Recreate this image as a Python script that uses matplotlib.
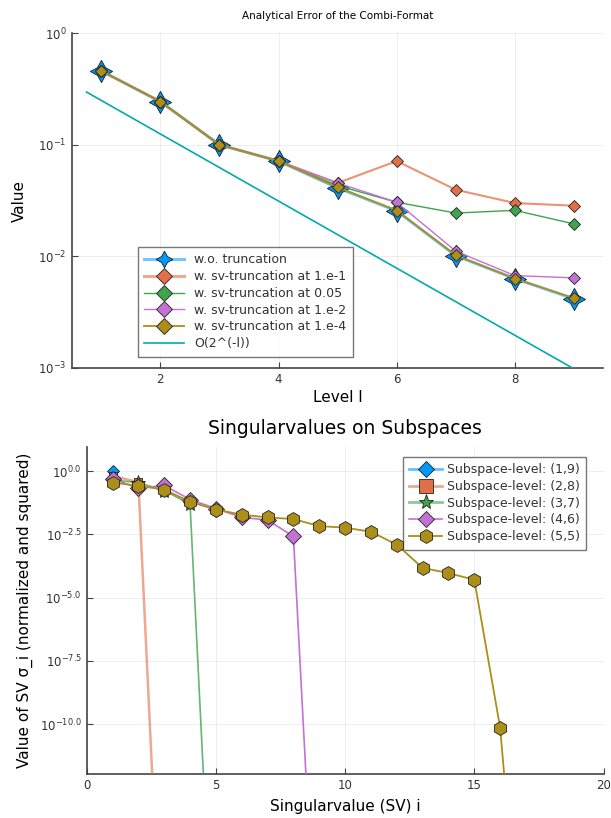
import numpy as np
import matplotlib
matplotlib.use("Agg")
import matplotlib.pyplot as plt
from matplotlib.ticker import FixedLocator, FixedFormatter, NullLocator
from matplotlib.colors import to_rgba
from matplotlib.lines import Line2D

plt.rcParams['font.family'] = ['DejaVu Sans']

# ---------------- data: top panel ----------------
levels = [1, 2, 3, 4, 5, 6, 7, 8, 9]
err_none = [0.46, 0.244, 0.100, 0.0714, 0.041, 0.0255, 0.0101, 0.0063, 0.00415]
err_1e1 = [0.46, 0.244, 0.100, 0.0714, 0.0454, 0.0714, 0.0395, 0.030, 0.0284]
err_005 = [0.46, 0.244, 0.100, 0.0714, 0.043, 0.0305, 0.0244, 0.0258, 0.0195]
err_1e2 = [0.46, 0.244, 0.100, 0.0714, 0.0454, 0.0305, 0.0111, 0.0067, 0.0064]
err_1e4 = [0.46, 0.244, 0.100, 0.0714, 0.0415, 0.0257, 0.0102, 0.0063, 0.0042]
ref_x = [0.75, 9.25]
ref_const = 0.5

top_labels = ["w.o. truncation", "w. sv-truncation at 1.e-1", "w. sv-truncation at 0.05",
              "w. sv-truncation at 1.e-2", "w. sv-truncation at 1.e-4", "O(2^(-l))"]

# ---------------- data: bottom panel ----------------
sv_19 = [1.0]
sv_28 = [0.65, 0.36, 1e-22]
sv_37 = [0.44, 0.35, 0.17, 0.049, 1e-22]
sv_46 = [0.50, 0.205, 0.27, 0.075, 0.033, 0.0148, 0.0116, 0.0026, 1e-22]
sv_55 = [0.35, 0.26, 0.185, 0.061, 0.030, 0.019, 0.0147, 0.0127, 0.0067, 0.0058,
         0.0040, 0.00124, 1.5e-4, 9.3e-5, 5.1e-5, 7.4e-11, 1e-22]
bottom_labels = ["Subspace-level: (1,9)", "Subspace-level: (2,8)", "Subspace-level: (3,7)",
                 "Subspace-level: (4,6)", "Subspace-level: (5,5)"]

C1, C2, C3, C4, C5, C6 = "#009AFA", "#E36F47", "#3EA44E", "#C371D2", "#AC8E18", "#00AAAE"
TXT = "#333333"
EDGE = "#222222"

W, H = 611, 818
fig = plt.figure(figsize=(W / 100, H / 100), dpi=100)


def rect(l, r, t, b):
    return [l / W, 1 - b / H, (r - l) / W, (b - t) / H]


def la(c, a):
    return to_rgba(c, a)


def style(ax):
    for s in ("top", "right"):
        ax.spines[s].set_visible(False)
    for s in ("left", "bottom"):
        ax.spines[s].set_color("#444444")
        ax.spines[s].set_linewidth(1.2)
    ax.tick_params(direction="in", length=4, width=0.8, colors="#444444",
                   labelcolor=TXT, labelsize=8.5)
    ax.grid(True, color="black", alpha=0.08, lw=0.6)
    ax.set_axisbelow(True)


# ---------------- top panel ----------------
ax1 = fig.add_axes(rect(71.7, 603.5, 33.3, 367.7))
style(ax1)
ax1.set_yscale("log")
ms_d = 6.5
ax1.plot(levels, err_none, color=la(C1, 0.55), lw=2.2, marker=(4, 1, 0), ms=16, mfc=C1,
         mec="#1a1a1a", mew=0.6, zorder=3)
ax1.plot(levels, err_1e1, color=la(C2, 0.75), lw=1.5, marker="D", ms=ms_d, mfc=C2,
         mec=EDGE, mew=0.6, zorder=4)
ax1.plot(levels, err_005, color=C3, lw=1.0, marker="D", ms=ms_d, mfc=C3,
         mec=EDGE, mew=0.6, zorder=4)
ax1.plot(levels, err_1e2, color=C4, lw=1.0, marker="D", ms=ms_d, mfc=C4,
         mec=EDGE, mew=0.6, zorder=5)
ax1.plot(levels, err_1e4, color=C5, lw=1.3, marker="D", ms=ms_d, mfc=C5,
         mec=EDGE, mew=0.6, zorder=6)
xr = np.linspace(ref_x[0], ref_x[1], 200)
ax1.plot(xr, ref_const * 2.0 ** (-xr), color=C6, lw=1.2, zorder=3)

ax1.set_xlim(0.5, 9.5)
ax1.set_ylim(1e-3, 1.0)
ax1.xaxis.set_major_locator(FixedLocator([2, 4, 6, 8]))
ax1.yaxis.set_major_locator(FixedLocator([1e-3, 1e-2, 1e-1, 1.0]))
ax1.yaxis.set_major_formatter(FixedFormatter([r"$10^{-3}$", r"$10^{-2}$", r"$10^{-1}$", r"$10^{0}$"]))
ax1.yaxis.set_minor_locator(NullLocator())
ax1.set_title("Analytical Error of the Combi-Format", fontsize=7.5, color="black", pad=10)
ax1.set_xlabel("Level l", fontsize=11, color="black", labelpad=3)
ax1.set_ylabel("Value", fontsize=11, color="black", labelpad=8)

h_top = [
    Line2D([], [], color=la(C1, 0.55), lw=2.2, marker=(4, 1, 0), ms=12, mfc=C1, mec="#1a1a1a", mew=0.6),
    Line2D([], [], color=la(C2, 0.6), lw=2.2, marker="D", ms=ms_d + 1.5, mfc=C2, mec=EDGE, mew=0.6),
    Line2D([], [], color=C3, lw=1.0, marker="D", ms=ms_d + 1.5, mfc=C3, mec=EDGE, mew=0.6),
    Line2D([], [], color=C4, lw=1.0, marker="D", ms=ms_d + 1.5, mfc=C4, mec=EDGE, mew=0.6),
    Line2D([], [], color=C5, lw=1.3, marker="D", ms=ms_d + 1.5, mfc=C5, mec=EDGE, mew=0.6),
    Line2D([], [], color=C6, lw=1.2),
]
leg1 = ax1.legend(h_top, top_labels, loc="lower left",
                  bbox_to_anchor=((137.5 - 71.7) / (603.5 - 71.7), (367.7 - 357) / (367.7 - 33.3)),
                  fontsize=9, frameon=True, fancybox=False, edgecolor="#555555",
                  handlelength=3.2, handletextpad=0.8, labelspacing=0.3, borderpad=0.55, borderaxespad=0)
leg1.get_frame().set_linewidth(1.0)
for t in leg1.get_texts():
    t.set_color(TXT)

# ---------------- bottom panel ----------------
ax2 = fig.add_axes(rect(86.7, 603.5, 446.7, 773.7))
style(ax2)
ax2.set_yscale("log")
x19 = np.arange(1, len(sv_19) + 1)
x28 = np.arange(1, len(sv_28) + 1)
x37 = np.arange(1, len(sv_37) + 1)
x46 = np.arange(1, len(sv_46) + 1)
x55 = np.arange(1, len(sv_55) + 1)
ax2.plot(x19, sv_19, color=la(C1, 0.6), lw=2.0, marker="D", ms=6, mfc=C1, mec=EDGE, mew=0.6, zorder=3)
ax2.plot(x28, sv_28, color=la(C2, 0.6), lw=1.8, marker="s", ms=6, mfc=C2, mec=EDGE, mew=0.6, zorder=4)
ax2.plot(x37, sv_37, color=la(C3, 0.8), lw=1.2, marker="*", ms=11, mfc=C3, mec=EDGE, mew=0.6, zorder=5)
ax2.plot(x46, sv_46, color=C4, lw=1.2, marker="D", ms=8, mfc=C4, mec=EDGE, mew=0.6, zorder=6)
ax2.plot(x55, sv_55, color=C5, lw=1.3, marker="h", ms=10, mfc=C5, mec=EDGE, mew=0.6, zorder=7)
ax2.set_xlim(0, 20)
ax2.set_ylim(10 ** -11.95, 10 ** 0.96)
ax2.xaxis.set_major_locator(FixedLocator([0, 5, 10, 15, 20]))
yt = [0.0, -2.5, -5.0, -7.5, -10.0]
ax2.yaxis.set_major_locator(FixedLocator([10 ** v for v in yt]))
ax2.yaxis.set_major_formatter(FixedFormatter([r"$10^{%.1f}$" % v for v in yt]))
ax2.yaxis.set_minor_locator(NullLocator())
ax2.set_title("Singularvalues on Subspaces", fontsize=13.5, color="black", pad=9)
ax2.set_xlabel("Singularvalue (SV) i", fontsize=11, color="black", labelpad=5)
ax2.set_ylabel("Value of SV σ_i (normalized and squared)", fontsize=11, color="black", labelpad=5)

h_bot = [
    Line2D([], [], color=la(C1, 0.6), lw=2.0, marker="D", ms=8, mfc=C1, mec=EDGE, mew=0.6),
    Line2D([], [], color=la(C2, 0.6), lw=2.0, marker="s", ms=10, mfc=C2, mec=EDGE, mew=0.6),
    Line2D([], [], color=la(C3, 0.6), lw=2.0, marker="*", ms=11, mfc=C3, mec=EDGE, mew=0.6),
    Line2D([], [], color=C4, lw=1.2, marker="D", ms=8, mfc=C4, mec=EDGE, mew=0.6),
    Line2D([], [], color=C5, lw=1.3, marker="h", ms=10, mfc=C5, mec=EDGE, mew=0.6),
]
leg2 = ax2.legend(h_bot, bottom_labels, loc="upper right",
                  bbox_to_anchor=((586 - 86.7) / (603.5 - 86.7), (773.7 - 457) / (773.7 - 446.7)),
                  fontsize=9, frameon=True, fancybox=False, edgecolor="#555555",
                  handlelength=2.6, handletextpad=0.4, labelspacing=0.3, borderpad=0.5, borderaxespad=0)
leg2.get_frame().set_linewidth(1.0)
for t in leg2.get_texts():
    t.set_color(TXT)

fig.savefig("out.png", dpi=100)
